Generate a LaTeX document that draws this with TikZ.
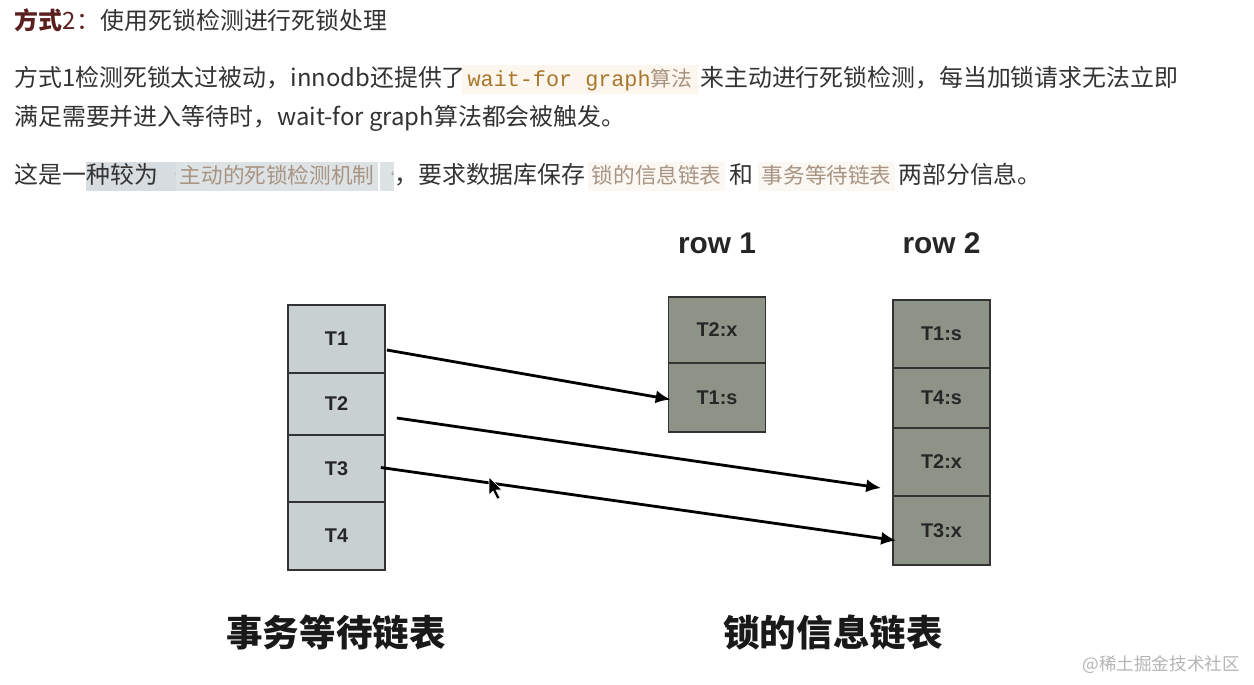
\documentclass[tikz,border=0pt]{standalone}
\usepackage{fontspec}
\setmainfont{Noto Sans CJK SC}
\newfontfamily\boxfont{Liberation Sans}
\newfontfamily\codefont{Liberation Mono}
\usetikzlibrary{arrows.meta,calc,positioning}

\definecolor{bodygray}{HTML}{333333}
\definecolor{headred}{HTML}{5C1F1F}
\definecolor{codebrown}{HTML}{A8772C}
\definecolor{codebg}{HTML}{FDF6EE}
\definecolor{mutedbrown}{HTML}{A89482}
\definecolor{selgray}{HTML}{D6DCDF}
\definecolor{markbg}{HTML}{DDE2E5}
\definecolor{faintbg}{HTML}{FBF7F2}
\definecolor{txfill}{HTML}{C8D0D2}
\definecolor{lkfill}{HTML}{8E9388}
\definecolor{cellline}{HTML}{333333}
\definecolor{markgray}{HTML}{B4B4B4}

\begin{document}
\begin{tikzpicture}[x=0.02cm, y=-0.02cm,
  txt/.style={inner sep=0pt, anchor=base west, text=bodygray, font=\fontsize{13.6}{16}\selectfont},
  hlbox/.style={txt, inner xsep=2pt, inner ysep=2.2pt, text height=10pt, text depth=2.6pt},
  txcell/.style={draw=cellline, line width=1pt, fill=txfill, minimum width=1.94cm, inner sep=0pt,
    font=\boxfont\bfseries\fontsize{11.3}{13}\selectfont, text=black!85},
  lkcell/.style={txcell, fill=lkfill},
  rowlabel/.style={font=\boxfont\bfseries\fontsize{17}{20}\selectfont, text=black!85},
  listlabel/.style={font=\bfseries\fontsize{20.8}{24}\selectfont, text=black!90},
  waitarrow/.style={-{Latex[length=8.5pt,width=7.5pt]}, line width=1.6pt}]
\useasboundingbox (0,0) rectangle (1254,684);

% --- testo sopra il disegno ---
\node[txt, text=headred] (h1) at (14,29) {\bfseries 方式};
\node[txt, text=headred] (h2) at (h1.base east) {2：};
\node[txt] (h3) at (h2.base east) {使用死锁检测进行死锁处理};

\node[txt] (p1a) at (14,86) {方式1检测死锁太过被动，innodb还提供了};
\node[hlbox, fill=codebg, inner xsep=3pt] (p1b) at (462,86)
  {{\color{codebrown}\codefont\fontsize{12.4}{15}\selectfont wait-for graph}{\color{mutedbrown}\fontsize{11.9}{14}\selectfont 算法}};
\node[txt] (p1c) at (700,86) {来主动进行死锁检测，每当加锁请求无法立即};
\node[txt] (p2) at (14,125) {满足需要并进入等待时，wait-for graph算法都会被触发。};

\node[txt] (p3a) at (14,183) {这是一};
\node[hlbox, fill=selgray, inner xsep=0pt, minimum width=1.72cm] (p3b) at (86,183) {种较为{\color{mutedbrown}\fontsize{8}{9}\selectfont\ \ `}};
\node[hlbox, fill=markbg, text=mutedbrown, font=\fontsize{12.3}{14}\selectfont] (p3c) at (176,183) {主动的死锁检测机制};
\node[hlbox, fill=markbg, text=mutedbrown, inner xsep=0pt, minimum width=0.22cm, font=\fontsize{8}{9}\selectfont] (p3d) at (380,183) {`};
\node[txt] (p3e) at (394,183) {，要求数据库保存};
\node[hlbox, fill=faintbg, text=mutedbrown, font=\fontsize{12.3}{14}\selectfont] (p3f) at (588,183) {锁的信息链表};
\node[txt] (p3g) at (729,183) {和};
\node[hlbox, fill=faintbg, text=mutedbrown, font=\fontsize{12.3}{14}\selectfont] (p3h) at (758,183) {事务等待链表};
\node[txt] (p3i) at (898,183) {两部分信息。};

% --- colonna delle transazioni ---
\node[txcell, minimum height=1.36cm] (t1) at (336.5,339) {T1};
\node[txcell, minimum height=1.24cm] (t2) at (336.5,404) {T2};
\node[txcell, minimum height=1.34cm] (t3) at (336.5,468.5) {T3};
\node[txcell, minimum height=1.36cm] (t4) at (336.5,536) {T4};

% --- righe con i lock ---
\node[rowlabel] (row1) at (717,243) {row 1};
\node[lkcell, minimum height=1.32cm] (r1a) at (717,330) {T2:x};
\node[lkcell, minimum height=1.38cm] (r1b) at (717,397.5) {T1:s};

\node[rowlabel] (row2) at (941.5,243) {row 2};
\node[lkcell, minimum height=1.36cm] (r2a) at (941.5,334) {T1:s};
\node[lkcell, minimum height=1.20cm] (r2b) at (941.5,398) {T4:s};
\node[lkcell, minimum height=1.36cm] (r2c) at (941.5,462) {T2:x};
\node[lkcell, minimum height=1.38cm] (r2d) at (941.5,530.5) {T3:x};

% --- attese ---
\draw[waitarrow] ($(t1.east)+(1,11)$) -- ($(r1b.west)+(3,2)$);
\draw[waitarrow] ($(t2.east)+(11,14)$) -- ($(r2c.west)+(-11,26)$);
\draw[waitarrow] ($(t3.east)+(-5,-1)$) -- ($(r2d.west)+(4,10)$);

% cursore del mouse
\filldraw[fill=black, draw=white, line width=0.3pt] (489,477) -- (489,495) -- (493,491) -- (497,499) -- (500,498) -- (496,490) -- (502,490) -- cycle;

\node[listlabel] (txlist) at (336,632) {事务等待链表};
\node[listlabel] (lklist) at (833,632) {锁的信息链表};
\node[anchor=east, text=markgray, font=\fontsize{10}{12}\selectfont] (mark) at (1246,665) {@稀土掘金技术社区};
\end{tikzpicture}
\end{document}
